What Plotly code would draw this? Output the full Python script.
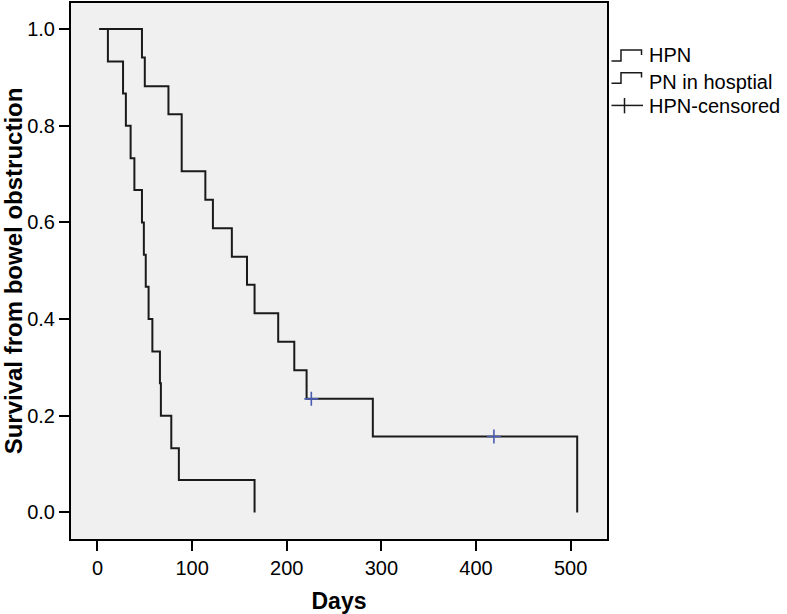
import plotly.graph_objects as go

# Kaplan-Meier steps
pn_days = [2, 11, 27, 30, 35, 39, 47, 49, 51, 54, 58, 66, 67, 78, 86, 166]
pn_surv = [1.0, 0.933, 0.867, 0.800, 0.733, 0.667, 0.600, 0.533, 0.467,
           0.400, 0.333, 0.267, 0.200, 0.133, 0.067, 0.0]

hpn_days = [2, 47, 50, 75, 89, 114, 122, 142, 158, 166, 191, 208, 221, 291, 507]
hpn_surv = [1.0, 0.941, 0.882, 0.824, 0.706, 0.647, 0.588, 0.529, 0.471,
            0.412, 0.353, 0.294, 0.235, 0.157, 0.0]

censor_days = [226, 419]
censor_surv = [0.235, 0.157]

legend_labels = ["HPN", "PN in hosptial", "HPN-censored"]

x_ticks = [0, 100, 200, 300, 400, 500]
y_ticks = [0.0, 0.2, 0.4, 0.6, 0.8, 1.0]

W, H = 787, 614
L, R, T, B = 71, 180, 1, 74
FONT = "Liberation Sans, Arial, Helvetica, sans-serif"
LINE = "#1a1a1a"


def px(x, y):
    """Pixel position -> paper coords."""
    return (x - L) / (W - L - R), (H - B - y) / (H - B - T)


fig = go.Figure()

fig.add_trace(go.Scatter(x=hpn_days, y=hpn_surv, mode="lines", line_shape="hv",
                         line=dict(color=LINE, width=2), name=legend_labels[0]))
fig.add_trace(go.Scatter(x=pn_days, y=pn_surv, mode="lines", line_shape="hv",
                         line=dict(color=LINE, width=2), name=legend_labels[1]))
fig.add_trace(go.Scatter(x=censor_days, y=censor_surv, mode="markers",
                         marker=dict(symbol="cross-thin", size=10,
                                     line=dict(color="#4a5cb0", width=1.6)),
                         name=legend_labels[2]))

# hand-drawn SPSS style legend
shapes = []
annotations = []
for lo, hi in [(59.3, 48.3), (81.7, 71.0)]:
    pts = [(611.5, lo), (621, lo), (621, hi), (641.5, hi), (641.5, hi + 5)]
    pts = [px(a, b) for a, b in pts]
    path = "M " + " L ".join(f"{a:.4f},{b:.4f}" for a, b in pts)
    shapes.append(dict(type="path", path=path, xref="paper", yref="paper",
                       line=dict(color=LINE, width=1.5)))
x0, y0 = px(611.5, 104)
x1, _ = px(643, 104)
shapes.append(dict(type="line", x0=x0, x1=x1, y0=y0, y1=y0, xref="paper",
                   yref="paper", line=dict(color=LINE, width=1.5)))
cx, cy0 = px(624.5, 96.5)
_, cy1 = px(624.5, 112)
shapes.append(dict(type="line", x0=cx, x1=cx, y0=cy0, y1=cy1, xref="paper",
                   yref="paper", line=dict(color=LINE, width=1.5)))

for label, ty in zip(legend_labels, [53, 80, 105]):
    ax, ay = px(647, ty)
    annotations.append(dict(text=label, x=ax, y=ay, xref="paper", yref="paper",
                            xanchor="left", yanchor="middle", showarrow=False,
                            font=dict(family=FONT, size=20, color="black")))

fig.update_layout(
    width=W, height=H,
    margin=dict(l=L, r=R, t=T, b=B),
    paper_bgcolor="white",
    plot_bgcolor="#f0f0f0",
    showlegend=False,
    shapes=shapes,
    annotations=annotations,
    font=dict(family=FONT, size=20, color="black"),
)
fig.update_xaxes(
    range=[-28, 538.5], tickvals=x_ticks, ticks="outside", ticklen=10,
    tickwidth=2, tickcolor="black", showline=True, linecolor="black",
    linewidth=2, mirror=True, showgrid=False, zeroline=False,
    title=dict(text="<b>Days</b>", font=dict(size=23), standoff=18),
)
fig.update_yaxes(
    range=[-0.055, 1.054], tickvals=y_ticks, tickformat=".1f", ticks="outside",
    ticklen=10, tickwidth=2, tickcolor="black", showline=True,
    linecolor="black", linewidth=2, mirror=True, showgrid=False,
    zeroline=False,
    title=dict(text="<b>Survival from bowel obstruction</b>",
               font=dict(size=24), standoff=6),
)

# drop the page's default 8px body margin so the figure sits at 0,0
fig.write_html("out.html", config={"displayModeBar": False},
               post_script="document.body.style.margin='0';")
